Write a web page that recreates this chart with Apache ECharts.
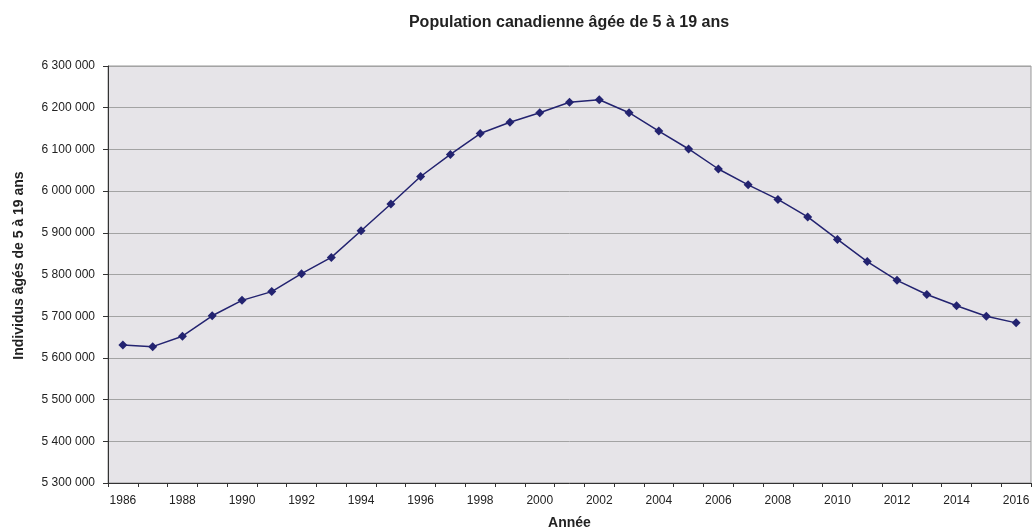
<!DOCTYPE html>
<html><head><meta charset="utf-8">
<script src="https://cdn.jsdelivr.net/npm/echarts@6/dist/echarts.min.js"></script>
<style>html,body{margin:0;padding:0;background:#fff}#c{width:1033px;height:529px}</style>
</head><body><div id="c"></div>
<script>
const years = ['1986','1987','1988','1989','1990','1991','1992','1993','1994','1995','1996','1997','1998','1999','2000','2001','2002','2003','2004','2005','2006','2007','2008','2009','2010','2011','2012','2013','2014','2015','2016'];
const population = [5631000,5627000,5652000,5701000,5738000,5759000,5802000,5841000,5905000,5969000,6035000,6088000,6138000,6165000,6188000,6213000,6219000,6188000,6144000,6101000,6053000,6015000,5980000,5938000,5884000,5831000,5786000,5752000,5725000,5700000,5684000];
const titleText = 'Population canadienne âgée de 5 à 19 ans';
const yName = 'Individus âgés de 5 à 19 ans';
const xName = 'Année';

const fmt = v => String(v).replace(/\B(?=(\d{3})+(?!\d))/g, ' ');
const FF = 'Liberation Sans, Arial, sans-serif';
const chart = echarts.init(document.getElementById('c'));
chart.setOption({
  animation: false,
  textStyle: {fontFamily: FF},
  title: {text: titleText, left: 564, textAlign: 'center', top: 10,
    textStyle: {fontSize: 16, fontWeight: 'bold', color: '#222', fontFamily: FF}},
  grid: {left: 108, right: 2, top: 66, bottom: 46, outerBoundsMode: 'none', containLabel: false,
    show: true, backgroundColor: '#E6E4E8', borderColor: '#999', borderWidth: 1},
  xAxis: {
    type: 'category', data: years, boundaryGap: true,
    name: xName, nameLocation: 'middle', nameGap: 33,
    nameTextStyle: {fontSize: 14, fontWeight: 'bold', color: '#222'},
    axisLine: {lineStyle: {color: '#333', width: 1}},
    axisTick: {show: true, interval: 0, length: 4, inside: false, lineStyle: {color: '#333'}},
    axisLabel: {interval: 1, fontSize: 12, color: '#222', margin: 12},
    splitLine: {show: false}
  },
  yAxis: {
    type: 'value', min: 5300000, max: 6300000, interval: 100000,
    name: yName, nameLocation: 'middle', nameGap: 82, nameRotate: 90,
    nameTextStyle: {fontSize: 14, fontWeight: 'bold', color: '#222', padding: [0, 0, 0, 18]},
    axisLine: {show: true, lineStyle: {color: '#333', width: 1}},
    axisTick: {show: true, length: 5, lineStyle: {color: '#333'}},
    axisLabel: {fontSize: 12, color: '#222', margin: 13, formatter: fmt},
    splitLine: {show: true, lineStyle: {color: '#A3A3A3', width: 1}}
  },
  series: [{
    type: 'line', data: population,
    symbol: 'diamond', symbolSize: 9,
    lineStyle: {color: '#232370', width: 1.5},
    itemStyle: {color: '#232370'}
  }]
});
</script></body></html>
